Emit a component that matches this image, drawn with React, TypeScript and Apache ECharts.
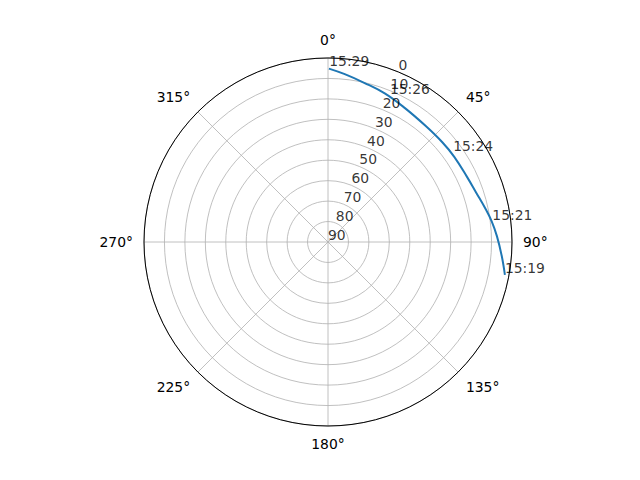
// Sky plot of a satellite pass: azimuth clockwise from north, elevation 90 at the centre.
import { useEffect, useRef } from 'react'
import * as echarts from 'echarts'

// track, ordered from the start of the pass (15:19) to its end (15:29)
const AZIMUTH = [100.5, 94.7, 88.1, 82.8, 77.8, 71.6, 65.0, 56.0, 48.9, 40.0, 29.6, 20.9, 13.0, 5.7, 0.3]
const ELEVATION = [2.0, 4.7, 7.3, 9.3, 11.4, 13.6, 14.9, 15.5, 15.8, 15.8, 14.4, 12.2, 10.2, 7.5, 5.2]

// time stamps written along the track
const TIME_LABELS = ['15:19', '15:21', '15:24', '15:26', '15:29']
const TIME_AZIMUTH = [100.5, 83.0, 54.7, 23.0, 0.4]
const TIME_ELEVATION = [2.0, 9.0, 15.0, 12.5, 5.1]

// elevation tick labels, drawn along one bearing like matplotlib's rlabels
const ELEVATION_TICKS = [0, 10, 20, 30, 40, 50, 60, 70, 80, 90]
const RLABEL_BEARING = 22.5

const FONT = 'DejaVu Sans'
const GRID = '#b0b0b0'

export default function App() {
  const ref = useRef<HTMLDivElement>(null)

  useEffect(() => {
    if (!ref.current) return
    const chart = echarts.init(ref.current, null, { renderer: 'svg' })

    const textLabel = {
      show: true,
      position: [0, 0],
      align: 'left',
      verticalAlign: 'bottom',
      color: '#000',
      fontFamily: FONT,
      fontSize: 13.9,
    }

    chart.setOption({
      animation: false,
      backgroundColor: '#fff',
      polar: { center: [328, 242], radius: 184 },
      angleAxis: {
        type: 'value',
        min: 0,
        max: 360,
        interval: 45,
        startAngle: 90,
        clockwise: true,
        axisLine: { lineStyle: { color: '#000', width: 1 } },
        axisTick: { show: false },
        axisLabel: {
          margin: 11,
          color: '#000',
          fontFamily: FONT,
          fontSize: 13.9,
          formatter: (v: number) => (v === 360 ? '' : v + '°'),
        },
        splitLine: { show: true, lineStyle: { color: GRID, width: 0.8 } },
        z: 1,
      },
      radiusAxis: {
        type: 'value',
        min: 0,
        max: 90,
        interval: 10,
        inverse: true,
        axisLine: { show: false },
        axisTick: { show: false },
        axisLabel: { show: false },
        splitLine: { show: true, lineStyle: { color: GRID, width: 0.8 } },
        z: 0,
      },
      series: [
        {
          type: 'line',
          coordinateSystem: 'polar',
          data: AZIMUTH.map((az, i) => [ELEVATION[i], az]),
          showSymbol: false,
          smooth: 0.4,
          lineStyle: { color: '#1f77b4', width: 2 },
          z: 3,
        },
        {
          type: 'scatter',
          coordinateSystem: 'polar',
          symbolSize: 0,
          clip: false,
          data: ELEVATION_TICKS.map((r) => [r, RLABEL_BEARING]),
          label: { ...textLabel, formatter: (p: any) => String(p.value[0]) },
          z: 4,
        },
        {
          type: 'scatter',
          coordinateSystem: 'polar',
          symbolSize: 0,
          clip: false,
          data: TIME_LABELS.map((t, i) => ({ name: t, value: [TIME_ELEVATION[i], TIME_AZIMUTH[i]] })),
          label: { ...textLabel, formatter: (p: any) => p.name },
          z: 5,
        },
      ],
    })

    return () => chart.dispose()
  }, [])

  return <div ref={ref} style={{ position: 'fixed', left: 0, top: 0, width: 640, height: 480 }} />
}
